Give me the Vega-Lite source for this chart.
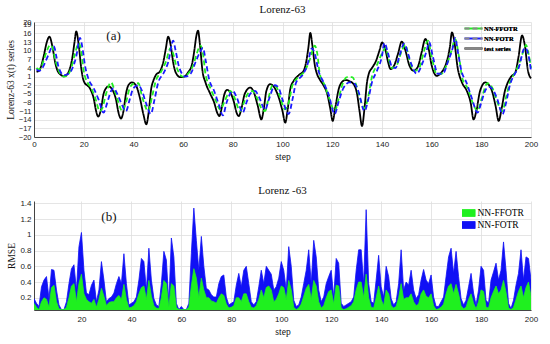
{
"$schema": "https://vega.github.io/schema/vega-lite/v6.json",
"background": "white",
"padding": {"left": 5, "top": 4, "right": 10, "bottom": 5},
"spacing": 24,
"config": {
  "view": {"stroke": null},
  "font": "Liberation Serif",
  "axis": {"labelFont": "Liberation Sans", "labelFontSize": 8, "labelColor": "#222", "titleFont": "Liberation Serif", "titleFontWeight": "normal", "titleFontSize": 9.5, "titleColor": "#111", "gridColor": "#dedede", "gridWidth": 0.8, "domainColor": "#444", "ticks": false, "labelOverlap": false, "labelFlush": false, "labelPadding": 3, "titlePadding": 3},
  "title": {"font": "Liberation Serif", "fontSize": 11, "fontWeight": "normal", "color": "#111", "offset": 3}
},
"resolve": {"scale": {"color": "independent", "x": "independent", "y": "independent"}, "legend": {"color": "independent"}},
"vconcat": [
{
  "width": 497, "height": 115,
  "title": "Lorenz-63",
  "encoding": {
    "x": {"field": "step", "type": "quantitative", "scale": {"domain": [0, 200], "nice": false}, "axis": {"values": [0,20,40,60,80,100,120,140,160,180,200], "title": "step"}},
    "y": {"field": "value", "type": "quantitative", "scale": {"domain": [-20, 20], "nice": false, "zero": false}, "axis": {"values": [-20,-17,-14,-11,-8,-5,-2,1,4,7,10,13,16,19,20], "title": "Lorenz-63 x(t) series", "labelFontSize": 7.5}}
  },
  "layer": [
    {
      "data": {"values": [
{"series":"test series","step":1,"value":2.7},{"series":"test series","step":2,"value":3.0},{"series":"test series","step":3,"value":5},{"series":"test series","step":4,"value":8.5},{"series":"test series","step":5,"value":12.5},{"series":"test series","step":6.2,"value":14.9},{"series":"test series","step":7.5,"value":11},{"series":"test series","step":8.5,"value":6},{"series":"test series","step":9.5,"value":3},{"series":"test series","step":11,"value":1.5},{"series":"test series","step":12,"value":1.1},{"series":"test series","step":13,"value":1.5},{"series":"test series","step":14.5,"value":4},{"series":"test series","step":15.5,"value":8},{"series":"test series","step":16.3,"value":13},{"series":"test series","step":17,"value":16.7},{"series":"test series","step":18,"value":12},{"series":"test series","step":19,"value":4},{"series":"test series","step":20,"value":-0.5},{"series":"test series","step":22.7,"value":-3.4},{"series":"test series","step":24,"value":-6.5},{"series":"test series","step":25,"value":-11},{"series":"test series","step":25.8,"value":-12.9},{"series":"test series","step":26.8,"value":-11},{"series":"test series","step":28,"value":-5},{"series":"test series","step":29,"value":-3},{"series":"test series","step":30,"value":-2.4},{"series":"test series","step":31.5,"value":-3.5},{"series":"test series","step":33,"value":-7},{"series":"test series","step":34,"value":-11.5},{"series":"test series","step":35,"value":-13.6},{"series":"test series","step":36,"value":-11},{"series":"test series","step":37,"value":-5},{"series":"test series","step":38,"value":-2},{"series":"test series","step":39.4,"value":-1.0},{"series":"test series","step":41,"value":-2},{"series":"test series","step":42.5,"value":-6},{"series":"test series","step":44,"value":-12},{"series":"test series","step":45.2,"value":-15.6},{"series":"test series","step":46.2,"value":-11},{"series":"test series","step":47.2,"value":-3},{"series":"test series","step":48,"value":-0.5},{"series":"test series","step":49,"value":1.5},{"series":"test series","step":50.8,"value":3.0},{"series":"test series","step":52,"value":6},{"series":"test series","step":53,"value":10.5},{"series":"test series","step":54,"value":14.9},{"series":"test series","step":55,"value":12},{"series":"test series","step":56,"value":6},{"series":"test series","step":57,"value":2.5},{"series":"test series","step":58.9,"value":0.8},{"series":"test series","step":60.5,"value":1},{"series":"test series","step":62,"value":2.5},{"series":"test series","step":63.5,"value":5},{"series":"test series","step":64.5,"value":10},{"series":"test series","step":65.3,"value":15},{"series":"test series","step":66,"value":17},{"series":"test series","step":66.8,"value":12},{"series":"test series","step":67.8,"value":3},{"series":"test series","step":69,"value":-1},{"series":"test series","step":71,"value":-5.1},{"series":"test series","step":72.5,"value":-8},{"series":"test series","step":73.7,"value":-11.5},{"series":"test series","step":74.6,"value":-12.7},{"series":"test series","step":75.5,"value":-10},{"series":"test series","step":76.5,"value":-5.5},{"series":"test series","step":77.7,"value":-3.6},{"series":"test series","step":79,"value":-4.5},{"series":"test series","step":80.5,"value":-8},{"series":"test series","step":81.5,"value":-11.5},{"series":"test series","step":82.4,"value":-12.7},{"series":"test series","step":83.5,"value":-10},{"series":"test series","step":84.8,"value":-5},{"series":"test series","step":87,"value":-2.8},{"series":"test series","step":88.5,"value":-4.5},{"series":"test series","step":90,"value":-9},{"series":"test series","step":91.5,"value":-13.9},{"series":"test series","step":92.5,"value":-10},{"series":"test series","step":93.5,"value":-4},{"series":"test series","step":95,"value":-1.6},{"series":"test series","step":96.5,"value":-2.5},{"series":"test series","step":98.5,"value":-6.3},{"series":"test series","step":100,"value":-11},{"series":"test series","step":101.1,"value":-15},{"series":"test series","step":102,"value":-11},{"series":"test series","step":103.2,"value":-3},{"series":"test series","step":104.5,"value":-0.5},{"series":"test series","step":106.5,"value":1.5},{"series":"test series","step":108.5,"value":3.0},{"series":"test series","step":109.5,"value":6},{"series":"test series","step":110.4,"value":11},{"series":"test series","step":111.2,"value":16.2},{"series":"test series","step":112,"value":12},{"series":"test series","step":113,"value":5},{"series":"test series","step":113.9,"value":1.9},{"series":"test series","step":115,"value":0},{"series":"test series","step":116.6,"value":-2.2},{"series":"test series","step":118,"value":-5},{"series":"test series","step":119.2,"value":-10},{"series":"test series","step":120.2,"value":-14.4},{"series":"test series","step":121.2,"value":-10},{"series":"test series","step":122.6,"value":-3.4},{"series":"test series","step":124,"value":-0.8},{"series":"test series","step":125.3,"value":-0.2},{"series":"test series","step":127,"value":-0.6},{"series":"test series","step":128.6,"value":-1.6},{"series":"test series","step":130,"value":-5},{"series":"test series","step":131,"value":-11},{"series":"test series","step":132,"value":-16.2},{"series":"test series","step":133,"value":-10},{"series":"test series","step":134,"value":-1},{"series":"test series","step":134.7,"value":1.9},{"series":"test series","step":136,"value":4},{"series":"test series","step":137.4,"value":6},{"series":"test series","step":139,"value":10},{"series":"test series","step":140.1,"value":12.9},{"series":"test series","step":141.5,"value":10},{"series":"test series","step":142.5,"value":6},{"series":"test series","step":143.5,"value":3.6},{"series":"test series","step":145,"value":5},{"series":"test series","step":146.5,"value":9},{"series":"test series","step":148,"value":13.2},{"series":"test series","step":149.5,"value":10},{"series":"test series","step":151,"value":5},{"series":"test series","step":152.8,"value":3.0},{"series":"test series","step":154.5,"value":4.5},{"series":"test series","step":156,"value":9.5},{"series":"test series","step":157.5,"value":14.1},{"series":"test series","step":158.5,"value":12},{"series":"test series","step":160,"value":5},{"series":"test series","step":162,"value":1.3},{"series":"test series","step":164,"value":2.5},{"series":"test series","step":166,"value":6},{"series":"test series","step":167.3,"value":11},{"series":"test series","step":168.2,"value":16.4},{"series":"test series","step":169,"value":14},{"series":"test series","step":170.5,"value":4},{"series":"test series","step":172.2,"value":-1},{"series":"test series","step":174.2,"value":-4},{"series":"test series","step":175.7,"value":-8},{"series":"test series","step":176.9,"value":-13.9},{"series":"test series","step":178,"value":-11},{"series":"test series","step":179.5,"value":-4},{"series":"test series","step":181.6,"value":-1},{"series":"test series","step":183,"value":-1.8},{"series":"test series","step":184.3,"value":-4},{"series":"test series","step":185.7,"value":-9},{"series":"test series","step":187,"value":-14.4},{"series":"test series","step":188.2,"value":-10},{"series":"test series","step":189.5,"value":-4},{"series":"test series","step":190.4,"value":-1.6},{"series":"test series","step":192,"value":1},{"series":"test series","step":193.7,"value":2.5},{"series":"test series","step":195,"value":8},{"series":"test series","step":196.4,"value":15.3},{"series":"test series","step":197.5,"value":12},{"series":"test series","step":198.8,"value":3},{"series":"test series","step":200,"value":0.4},
{"series":"NN-FFOTR","step":1,"value":4},{"series":"NN-FFOTR","step":2,"value":3.5},{"series":"NN-FFOTR","step":3,"value":4.5},{"series":"NN-FFOTR","step":4,"value":7},{"series":"NN-FFOTR","step":5,"value":9.5},{"series":"NN-FFOTR","step":6.5,"value":12},{"series":"NN-FFOTR","step":7.5,"value":11},{"series":"NN-FFOTR","step":8.5,"value":7},{"series":"NN-FFOTR","step":10,"value":3},{"series":"NN-FFOTR","step":12,"value":1},{"series":"NN-FFOTR","step":13.5,"value":1.5},{"series":"NN-FFOTR","step":15,"value":4},{"series":"NN-FFOTR","step":16.5,"value":9},{"series":"NN-FFOTR","step":18,"value":12.5},{"series":"NN-FFOTR","step":19,"value":10},{"series":"NN-FFOTR","step":20,"value":3},{"series":"NN-FFOTR","step":21.5,"value":-1},{"series":"NN-FFOTR","step":23,"value":-3},{"series":"NN-FFOTR","step":24.5,"value":-6},{"series":"NN-FFOTR","step":26.5,"value":-11},{"series":"NN-FFOTR","step":27.5,"value":-10},{"series":"NN-FFOTR","step":29,"value":-5},{"series":"NN-FFOTR","step":31,"value":-1},{"series":"NN-FFOTR","step":32.5,"value":-4},{"series":"NN-FFOTR","step":34,"value":-8},{"series":"NN-FFOTR","step":35.5,"value":-11},{"series":"NN-FFOTR","step":37,"value":-8},{"series":"NN-FFOTR","step":38.5,"value":-3},{"series":"NN-FFOTR","step":40,"value":-1.5},{"series":"NN-FFOTR","step":42,"value":-1.3},{"series":"NN-FFOTR","step":43.5,"value":-6},{"series":"NN-FFOTR","step":46,"value":-11},{"series":"NN-FFOTR","step":47.5,"value":-6},{"series":"NN-FFOTR","step":49,"value":-0.5},{"series":"NN-FFOTR","step":51,"value":2.5},{"series":"NN-FFOTR","step":53,"value":6},{"series":"NN-FFOTR","step":55,"value":11},{"series":"NN-FFOTR","step":56,"value":9},{"series":"NN-FFOTR","step":57.5,"value":4},{"series":"NN-FFOTR","step":60,"value":1},{"series":"NN-FFOTR","step":62,"value":2},{"series":"NN-FFOTR","step":64,"value":4.8},{"series":"NN-FFOTR","step":65.5,"value":9},{"series":"NN-FFOTR","step":67,"value":11.8},{"series":"NN-FFOTR","step":68,"value":9},{"series":"NN-FFOTR","step":69,"value":2},{"series":"NN-FFOTR","step":71,"value":-3},{"series":"NN-FFOTR","step":73,"value":-7},{"series":"NN-FFOTR","step":75,"value":-10.5},{"series":"NN-FFOTR","step":76.5,"value":-8},{"series":"NN-FFOTR","step":79,"value":-4},{"series":"NN-FFOTR","step":80.5,"value":-6},{"series":"NN-FFOTR","step":83,"value":-11},{"series":"NN-FFOTR","step":84.5,"value":-8},{"series":"NN-FFOTR","step":86,"value":-5},{"series":"NN-FFOTR","step":88,"value":-4},{"series":"NN-FFOTR","step":89.5,"value":-6},{"series":"NN-FFOTR","step":91.5,"value":-10},{"series":"NN-FFOTR","step":93,"value":-11},{"series":"NN-FFOTR","step":94.5,"value":-6},{"series":"NN-FFOTR","step":96,"value":-2},{"series":"NN-FFOTR","step":97.5,"value":-2.5},{"series":"NN-FFOTR","step":99,"value":-6},{"series":"NN-FFOTR","step":101,"value":-10.4},{"series":"NN-FFOTR","step":102.5,"value":-8},{"series":"NN-FFOTR","step":104,"value":-2},{"series":"NN-FFOTR","step":106,"value":0.5},{"series":"NN-FFOTR","step":109,"value":3},{"series":"NN-FFOTR","step":111,"value":7},{"series":"NN-FFOTR","step":113,"value":11.8},{"series":"NN-FFOTR","step":114,"value":9},{"series":"NN-FFOTR","step":115,"value":2},{"series":"NN-FFOTR","step":117,"value":-2},{"series":"NN-FFOTR","step":119,"value":-7},{"series":"NN-FFOTR","step":121,"value":-11},{"series":"NN-FFOTR","step":122.5,"value":-7},{"series":"NN-FFOTR","step":124,"value":-2},{"series":"NN-FFOTR","step":126,"value":0.8},{"series":"NN-FFOTR","step":128,"value":0.8},{"series":"NN-FFOTR","step":129.5,"value":-1.5},{"series":"NN-FFOTR","step":131,"value":-6},{"series":"NN-FFOTR","step":133,"value":-10},{"series":"NN-FFOTR","step":134.5,"value":-6},{"series":"NN-FFOTR","step":136,"value":1},{"series":"NN-FFOTR","step":138,"value":5},{"series":"NN-FFOTR","step":140,"value":9},{"series":"NN-FFOTR","step":141.5,"value":11},{"series":"NN-FFOTR","step":142.5,"value":8},{"series":"NN-FFOTR","step":144,"value":4},{"series":"NN-FFOTR","step":146,"value":5},{"series":"NN-FFOTR","step":148,"value":10},{"series":"NN-FFOTR","step":149.5,"value":12},{"series":"NN-FFOTR","step":151,"value":7},{"series":"NN-FFOTR","step":153,"value":3},{"series":"NN-FFOTR","step":155,"value":4},{"series":"NN-FFOTR","step":157,"value":10},{"series":"NN-FFOTR","step":158.5,"value":13.5},{"series":"NN-FFOTR","step":160,"value":8},{"series":"NN-FFOTR","step":162,"value":2},{"series":"NN-FFOTR","step":164,"value":2},{"series":"NN-FFOTR","step":166,"value":5},{"series":"NN-FFOTR","step":168,"value":10},{"series":"NN-FFOTR","step":169.5,"value":14},{"series":"NN-FFOTR","step":171,"value":8},{"series":"NN-FFOTR","step":172.5,"value":0},{"series":"NN-FFOTR","step":174.5,"value":-3},{"series":"NN-FFOTR","step":176.5,"value":-8},{"series":"NN-FFOTR","step":178.5,"value":-11},{"series":"NN-FFOTR","step":180,"value":-7},{"series":"NN-FFOTR","step":182.5,"value":-1.3},{"series":"NN-FFOTR","step":184.5,"value":-3},{"series":"NN-FFOTR","step":186.5,"value":-8},{"series":"NN-FFOTR","step":188.5,"value":-11},{"series":"NN-FFOTR","step":190,"value":-6},{"series":"NN-FFOTR","step":191.5,"value":-1},{"series":"NN-FFOTR","step":193,"value":1.5},{"series":"NN-FFOTR","step":195,"value":5},{"series":"NN-FFOTR","step":197,"value":10},{"series":"NN-FFOTR","step":198,"value":12},{"series":"NN-FFOTR","step":199,"value":9},{"series":"NN-FFOTR","step":200,"value":4},
{"series":"NN-FOTR","step":1,"value":3.5},{"series":"NN-FOTR","step":2,"value":3},{"series":"NN-FOTR","step":3,"value":3.5},{"series":"NN-FOTR","step":4,"value":5},{"series":"NN-FOTR","step":5,"value":7},{"series":"NN-FOTR","step":6,"value":9},{"series":"NN-FOTR","step":7,"value":11},{"series":"NN-FOTR","step":8,"value":11.5},{"series":"NN-FOTR","step":9,"value":8},{"series":"NN-FOTR","step":10,"value":4},{"series":"NN-FOTR","step":12,"value":1.5},{"series":"NN-FOTR","step":14,"value":2},{"series":"NN-FOTR","step":15.5,"value":4},{"series":"NN-FOTR","step":17,"value":8},{"series":"NN-FOTR","step":18.5,"value":14.5},{"series":"NN-FOTR","step":19.5,"value":11},{"series":"NN-FOTR","step":20.5,"value":5},{"series":"NN-FOTR","step":22,"value":0},{"series":"NN-FOTR","step":24,"value":-3},{"series":"NN-FOTR","step":26,"value":-7},{"series":"NN-FOTR","step":28,"value":-11.5},{"series":"NN-FOTR","step":29.5,"value":-8},{"series":"NN-FOTR","step":31,"value":-4},{"series":"NN-FOTR","step":32,"value":-3},{"series":"NN-FOTR","step":33.5,"value":-5},{"series":"NN-FOTR","step":35,"value":-8},{"series":"NN-FOTR","step":37,"value":-11},{"series":"NN-FOTR","step":38.5,"value":-7},{"series":"NN-FOTR","step":40,"value":-3},{"series":"NN-FOTR","step":42,"value":-2},{"series":"NN-FOTR","step":43.5,"value":-4},{"series":"NN-FOTR","step":45,"value":-8},{"series":"NN-FOTR","step":47,"value":-12},{"series":"NN-FOTR","step":48.5,"value":-7},{"series":"NN-FOTR","step":50,"value":-1},{"series":"NN-FOTR","step":52,"value":2},{"series":"NN-FOTR","step":54,"value":6},{"series":"NN-FOTR","step":56,"value":13.5},{"series":"NN-FOTR","step":57,"value":10},{"series":"NN-FOTR","step":58.5,"value":4},{"series":"NN-FOTR","step":61,"value":1},{"series":"NN-FOTR","step":63,"value":2},{"series":"NN-FOTR","step":65,"value":6},{"series":"NN-FOTR","step":66.5,"value":9},{"series":"NN-FOTR","step":68,"value":11},{"series":"NN-FOTR","step":69,"value":7},{"series":"NN-FOTR","step":70.5,"value":0},{"series":"NN-FOTR","step":72.5,"value":-4},{"series":"NN-FOTR","step":74.5,"value":-9},{"series":"NN-FOTR","step":76,"value":-12.5},{"series":"NN-FOTR","step":77.5,"value":-8},{"series":"NN-FOTR","step":80,"value":-4},{"series":"NN-FOTR","step":81.5,"value":-6},{"series":"NN-FOTR","step":84,"value":-11.5},{"series":"NN-FOTR","step":85.5,"value":-8},{"series":"NN-FOTR","step":87,"value":-5},{"series":"NN-FOTR","step":89,"value":-4},{"series":"NN-FOTR","step":90.5,"value":-6},{"series":"NN-FOTR","step":93,"value":-10.5},{"series":"NN-FOTR","step":94.5,"value":-7},{"series":"NN-FOTR","step":97,"value":-2},{"series":"NN-FOTR","step":98.5,"value":-3},{"series":"NN-FOTR","step":100,"value":-7},{"series":"NN-FOTR","step":102.5,"value":-12},{"series":"NN-FOTR","step":104,"value":-7},{"series":"NN-FOTR","step":105.5,"value":-1},{"series":"NN-FOTR","step":108,"value":1.5},{"series":"NN-FOTR","step":110,"value":5},{"series":"NN-FOTR","step":111.8,"value":10.8},{"series":"NN-FOTR","step":113,"value":9},{"series":"NN-FOTR","step":114.5,"value":3},{"series":"NN-FOTR","step":116.5,"value":-1},{"series":"NN-FOTR","step":118.5,"value":-5},{"series":"NN-FOTR","step":121,"value":-12},{"series":"NN-FOTR","step":122.5,"value":-8},{"series":"NN-FOTR","step":124.5,"value":-3},{"series":"NN-FOTR","step":127,"value":-1},{"series":"NN-FOTR","step":129,"value":-1.5},{"series":"NN-FOTR","step":130.5,"value":-4},{"series":"NN-FOTR","step":133,"value":-11},{"series":"NN-FOTR","step":134.5,"value":-7},{"series":"NN-FOTR","step":136,"value":-1},{"series":"NN-FOTR","step":138,"value":3},{"series":"NN-FOTR","step":140,"value":8},{"series":"NN-FOTR","step":141,"value":12.7},{"series":"NN-FOTR","step":142.5,"value":9},{"series":"NN-FOTR","step":144,"value":4.5},{"series":"NN-FOTR","step":145.5,"value":4},{"series":"NN-FOTR","step":147,"value":8},{"series":"NN-FOTR","step":149,"value":12.5},{"series":"NN-FOTR","step":150.5,"value":9},{"series":"NN-FOTR","step":152,"value":5},{"series":"NN-FOTR","step":154,"value":2},{"series":"NN-FOTR","step":156,"value":5},{"series":"NN-FOTR","step":158,"value":10},{"series":"NN-FOTR","step":159,"value":13},{"series":"NN-FOTR","step":160.5,"value":8},{"series":"NN-FOTR","step":162.5,"value":2},{"series":"NN-FOTR","step":164.5,"value":2},{"series":"NN-FOTR","step":166.5,"value":6},{"series":"NN-FOTR","step":168.5,"value":11},{"series":"NN-FOTR","step":169.5,"value":14.5},{"series":"NN-FOTR","step":170.5,"value":10},{"series":"NN-FOTR","step":172,"value":3},{"series":"NN-FOTR","step":174,"value":-1},{"series":"NN-FOTR","step":176,"value":-6},{"series":"NN-FOTR","step":178.5,"value":-11.5},{"series":"NN-FOTR","step":180,"value":-8},{"series":"NN-FOTR","step":181.5,"value":-4},{"series":"NN-FOTR","step":183,"value":-2.5},{"series":"NN-FOTR","step":185,"value":-4},{"series":"NN-FOTR","step":186.5,"value":-7},{"series":"NN-FOTR","step":188.5,"value":-12},{"series":"NN-FOTR","step":190,"value":-8},{"series":"NN-FOTR","step":191.5,"value":-2},{"series":"NN-FOTR","step":193.5,"value":2},{"series":"NN-FOTR","step":195,"value":4},{"series":"NN-FOTR","step":197.5,"value":11},{"series":"NN-FOTR","step":198.5,"value":10},{"series":"NN-FOTR","step":199.5,"value":6},{"series":"NN-FOTR","step":200,"value":3}
      ]},
      "mark": {"type": "line", "interpolate": "monotone", "strokeWidth": 1.8},
      "encoding": {
        "color": {"field": "series", "type": "nominal", "scale": {"domain": ["NN-FFOTR", "NN-FOTR", "test series"], "range": ["#22ee22", "#1a1aff", "#000000"]},
          "legend": {"orient": "none", "legendX": 434, "legendY": 1, "title": null, "symbolType": "M-2,0H2", "symbolSize": 81, "symbolStrokeWidth": 2, "symbolFillColor": "transparent", "labelFont": "Liberation Serif", "labelFontSize": 6.5, "labelFontWeight": "bold", "labelOffset": 5, "rowPadding": 0, "padding": 0}},
        "strokeDash": {"field": "series", "type": "nominal", "scale": {"domain": ["NN-FFOTR", "NN-FOTR", "test series"], "range": [[5,3],[5,3],[1,0]]},
          "legend": {"orient": "none", "legendX": 434, "legendY": 1, "title": null, "symbolType": "M-2,0H2", "symbolSize": 81, "symbolStrokeWidth": 2, "symbolFillColor": "transparent", "labelFont": "Liberation Serif", "labelFontSize": 6.5, "labelFontWeight": "bold", "labelOffset": 5, "rowPadding": 0, "padding": 0}}
      }
    },
    {
      "data": {"values": [{"step": 32, "value": 15, "label": "(a)"}]},
      "mark": {"type": "text", "fontSize": 13, "font": "Liberation Serif", "fontWeight": "normal", "color": "#111"},
      "encoding": {"text": {"field": "label"}}
    }
  ]
},
{
  "width": 497, "height": 109,
  "title": "Lorenz -63",
  "encoding": {
    "x": {"field": "step", "type": "quantitative", "scale": {"domain": [1, 200], "nice": false}, "axis": {"values": [20,40,60,80,100,120,140,160,180,200], "title": "step", "labelPadding": 5}},
    "y": {"field": "rmse", "type": "quantitative", "scale": {"domain": [0.045, 1.43], "nice": false, "zero": false}, "axis": {"values": [0.2,0.4,0.6,0.8,1,1.2,1.4], "format": "~g", "title": "RMSE"}}
  },
  "layer": [
    {
      "data": {"values": [
{"step":1,"NN-FFOTR":0.13,"NN-FOTR":0.19},{"step":2,"NN-FFOTR":0.08,"NN-FOTR":0.13},{"step":3,"NN-FFOTR":0.05,"NN-FOTR":0.09},{"step":4,"NN-FFOTR":0.15,"NN-FOTR":0.34},{"step":5,"NN-FFOTR":0.2,"NN-FOTR":0.425},{"step":6,"NN-FFOTR":0.18,"NN-FOTR":0.47},{"step":7,"NN-FFOTR":0.08,"NN-FOTR":0.19},{"step":8,"NN-FFOTR":0.33,"NN-FOTR":0.56},{"step":9,"NN-FFOTR":0.36,"NN-FOTR":0.55},{"step":10,"NN-FFOTR":0.15,"NN-FOTR":0.3},
{"step":11,"NN-FFOTR":0.06,"NN-FOTR":0.11},{"step":12,"NN-FFOTR":0.05,"NN-FOTR":0.05},{"step":13,"NN-FFOTR":0.05,"NN-FOTR":0.05},{"step":14,"NN-FFOTR":0.08,"NN-FOTR":0.15},{"step":15,"NN-FFOTR":0.2,"NN-FOTR":0.38},{"step":16,"NN-FFOTR":0.35,"NN-FOTR":0.57},{"step":17,"NN-FFOTR":0.38,"NN-FOTR":0.62},{"step":18,"NN-FFOTR":0.15,"NN-FOTR":0.3},{"step":19,"NN-FFOTR":0.38,"NN-FOTR":0.85},{"step":20,"NN-FFOTR":0.5,"NN-FOTR":1.03},
{"step":21,"NN-FFOTR":0.25,"NN-FOTR":0.55},{"step":22,"NN-FFOTR":0.18,"NN-FOTR":0.26},{"step":23,"NN-FFOTR":0.15,"NN-FOTR":0.24},{"step":24,"NN-FFOTR":0.13,"NN-FOTR":0.36},{"step":25,"NN-FFOTR":0.18,"NN-FOTR":0.425},{"step":26,"NN-FFOTR":0.08,"NN-FOTR":0.15},{"step":27,"NN-FFOTR":0.18,"NN-FOTR":0.3},{"step":28,"NN-FFOTR":0.32,"NN-FOTR":0.66},{"step":29,"NN-FFOTR":0.22,"NN-FOTR":0.425},{"step":30,"NN-FFOTR":0.1,"NN-FOTR":0.15},
{"step":31,"NN-FFOTR":0.14,"NN-FOTR":0.19},{"step":32,"NN-FFOTR":0.15,"NN-FOTR":0.21},{"step":33,"NN-FFOTR":0.15,"NN-FOTR":0.26},{"step":34,"NN-FFOTR":0.2,"NN-FOTR":0.38},{"step":35,"NN-FFOTR":0.23,"NN-FOTR":0.47},{"step":36,"NN-FFOTR":0.18,"NN-FOTR":0.38},{"step":37,"NN-FFOTR":0.37,"NN-FOTR":0.76},{"step":38,"NN-FFOTR":0.18,"NN-FOTR":0.38},{"step":39,"NN-FFOTR":0.07,"NN-FOTR":0.11},{"step":40,"NN-FFOTR":0.08,"NN-FOTR":0.13},
{"step":41,"NN-FFOTR":0.1,"NN-FOTR":0.15},{"step":42,"NN-FFOTR":0.15,"NN-FOTR":0.21},{"step":43,"NN-FFOTR":0.25,"NN-FOTR":0.425},{"step":44,"NN-FFOTR":0.33,"NN-FOTR":0.7},{"step":45,"NN-FFOTR":0.35,"NN-FOTR":0.66},{"step":46,"NN-FFOTR":0.18,"NN-FOTR":0.3},{"step":47,"NN-FFOTR":0.42,"NN-FOTR":0.83},{"step":48,"NN-FFOTR":0.22,"NN-FOTR":0.425},{"step":49,"NN-FFOTR":0.1,"NN-FOTR":0.19},{"step":50,"NN-FFOTR":0.07,"NN-FOTR":0.11},
{"step":51,"NN-FFOTR":0.06,"NN-FOTR":0.09},{"step":52,"NN-FFOTR":0.2,"NN-FOTR":0.38},{"step":53,"NN-FFOTR":0.42,"NN-FOTR":0.79},{"step":54,"NN-FFOTR":0.38,"NN-FOTR":0.68},{"step":55,"NN-FFOTR":0.08,"NN-FOTR":0.13},{"step":56,"NN-FFOTR":0.38,"NN-FOTR":0.96},{"step":57,"NN-FFOTR":0.35,"NN-FOTR":0.72},{"step":58,"NN-FFOTR":0.08,"NN-FOTR":0.13},{"step":59,"NN-FFOTR":0.05,"NN-FOTR":0.05},{"step":60,"NN-FFOTR":0.05,"NN-FOTR":0.09},
{"step":61,"NN-FFOTR":0.05,"NN-FOTR":0.05},{"step":62,"NN-FFOTR":0.05,"NN-FOTR":0.05},{"step":63,"NN-FFOTR":0.08,"NN-FOTR":0.13},{"step":64,"NN-FFOTR":0.35,"NN-FOTR":0.76},{"step":65,"NN-FFOTR":0.57,"NN-FOTR":1.34},{"step":66,"NN-FFOTR":0.45,"NN-FOTR":0.93},{"step":67,"NN-FFOTR":0.2,"NN-FOTR":0.55},{"step":68,"NN-FFOTR":0.45,"NN-FOTR":0.98},{"step":69,"NN-FFOTR":0.3,"NN-FOTR":0.6},{"step":70,"NN-FFOTR":0.2,"NN-FOTR":0.32},
{"step":71,"NN-FFOTR":0.2,"NN-FOTR":0.3},{"step":72,"NN-FFOTR":0.16,"NN-FOTR":0.24},{"step":73,"NN-FFOTR":0.15,"NN-FOTR":0.21},{"step":74,"NN-FFOTR":0.13,"NN-FOTR":0.21},{"step":75,"NN-FFOTR":0.2,"NN-FOTR":0.38},{"step":76,"NN-FFOTR":0.25,"NN-FOTR":0.47},{"step":77,"NN-FFOTR":0.23,"NN-FOTR":0.49},{"step":78,"NN-FFOTR":0.12,"NN-FOTR":0.21},{"step":79,"NN-FFOTR":0.07,"NN-FOTR":0.11},{"step":80,"NN-FFOTR":0.08,"NN-FOTR":0.13},
{"step":81,"NN-FFOTR":0.1,"NN-FOTR":0.15},{"step":82,"NN-FFOTR":0.2,"NN-FOTR":0.36},{"step":83,"NN-FFOTR":0.2,"NN-FOTR":0.51},{"step":84,"NN-FFOTR":0.15,"NN-FOTR":0.34},{"step":85,"NN-FFOTR":0.25,"NN-FOTR":0.55},{"step":86,"NN-FFOTR":0.25,"NN-FOTR":0.6},{"step":87,"NN-FFOTR":0.15,"NN-FOTR":0.38},{"step":88,"NN-FFOTR":0.08,"NN-FOTR":0.15},{"step":89,"NN-FFOTR":0.07,"NN-FOTR":0.11},{"step":90,"NN-FFOTR":0.1,"NN-FOTR":0.15},
{"step":91,"NN-FFOTR":0.18,"NN-FOTR":0.34},{"step":92,"NN-FFOTR":0.3,"NN-FOTR":0.55},{"step":93,"NN-FFOTR":0.2,"NN-FOTR":0.38},{"step":94,"NN-FFOTR":0.33,"NN-FOTR":0.6},{"step":95,"NN-FFOTR":0.35,"NN-FOTR":0.55},{"step":96,"NN-FFOTR":0.3,"NN-FOTR":0.5},{"step":97,"NN-FFOTR":0.15,"NN-FOTR":0.3},{"step":98,"NN-FFOTR":0.18,"NN-FOTR":0.34},{"step":99,"NN-FFOTR":0.25,"NN-FOTR":0.45},{"step":100,"NN-FFOTR":0.35,"NN-FOTR":0.66},
{"step":101,"NN-FFOTR":0.33,"NN-FOTR":0.55},{"step":102,"NN-FFOTR":0.18,"NN-FOTR":0.3},{"step":103,"NN-FFOTR":0.42,"NN-FOTR":0.85},{"step":104,"NN-FFOTR":0.3,"NN-FOTR":0.6},{"step":105,"NN-FFOTR":0.08,"NN-FOTR":0.17},{"step":106,"NN-FFOTR":0.05,"NN-FOTR":0.09},{"step":107,"NN-FFOTR":0.07,"NN-FOTR":0.11},{"step":108,"NN-FFOTR":0.12,"NN-FOTR":0.21},{"step":109,"NN-FFOTR":0.22,"NN-FOTR":0.38},{"step":110,"NN-FFOTR":0.32,"NN-FOTR":0.55},
{"step":111,"NN-FFOTR":0.37,"NN-FOTR":0.81},{"step":112,"NN-FFOTR":0.18,"NN-FOTR":0.38},{"step":113,"NN-FFOTR":0.42,"NN-FOTR":0.93},{"step":114,"NN-FFOTR":0.35,"NN-FOTR":0.72},{"step":115,"NN-FFOTR":0.15,"NN-FOTR":0.3},{"step":116,"NN-FFOTR":0.07,"NN-FOTR":0.15},{"step":117,"NN-FFOTR":0.1,"NN-FOTR":0.21},{"step":118,"NN-FFOTR":0.2,"NN-FOTR":0.38},{"step":119,"NN-FFOTR":0.28,"NN-FOTR":0.47},{"step":120,"NN-FFOTR":0.3,"NN-FOTR":0.55},
{"step":121,"NN-FFOTR":0.12,"NN-FOTR":0.21},{"step":122,"NN-FFOTR":0.36,"NN-FOTR":0.7},{"step":123,"NN-FFOTR":0.35,"NN-FOTR":0.64},{"step":124,"NN-FFOTR":0.07,"NN-FOTR":0.13},{"step":125,"NN-FFOTR":0.05,"NN-FOTR":0.09},{"step":126,"NN-FFOTR":0.06,"NN-FOTR":0.11},{"step":127,"NN-FFOTR":0.08,"NN-FOTR":0.13},{"step":128,"NN-FFOTR":0.1,"NN-FOTR":0.15},{"step":129,"NN-FFOTR":0.15,"NN-FOTR":0.21},{"step":130,"NN-FFOTR":0.3,"NN-FOTR":0.55},
{"step":131,"NN-FFOTR":0.4,"NN-FOTR":0.81},{"step":132,"NN-FFOTR":0.4,"NN-FOTR":0.81},{"step":133,"NN-FFOTR":0.2,"NN-FOTR":0.38},{"step":134,"NN-FFOTR":0.5,"NN-FOTR":1.32},{"step":135,"NN-FFOTR":0.2,"NN-FOTR":0.38},{"step":136,"NN-FFOTR":0.08,"NN-FOTR":0.15},{"step":137,"NN-FFOTR":0.07,"NN-FOTR":0.13},{"step":138,"NN-FFOTR":0.2,"NN-FOTR":0.425},{"step":139,"NN-FFOTR":0.35,"NN-FOTR":0.74},{"step":140,"NN-FFOTR":0.18,"NN-FOTR":0.34},
{"step":141,"NN-FFOTR":0.1,"NN-FOTR":0.21},{"step":142,"NN-FFOTR":0.3,"NN-FOTR":0.6},{"step":143,"NN-FFOTR":0.25,"NN-FOTR":0.47},{"step":144,"NN-FFOTR":0.1,"NN-FOTR":0.19},{"step":145,"NN-FFOTR":0.07,"NN-FOTR":0.11},{"step":146,"NN-FFOTR":0.09,"NN-FOTR":0.15},{"step":147,"NN-FFOTR":0.2,"NN-FOTR":0.38},{"step":148,"NN-FFOTR":0.38,"NN-FOTR":0.81},{"step":149,"NN-FFOTR":0.18,"NN-FOTR":0.3},{"step":150,"NN-FFOTR":0.2,"NN-FOTR":0.4},
{"step":151,"NN-FFOTR":0.2,"NN-FOTR":0.36},{"step":152,"NN-FFOTR":0.25,"NN-FOTR":0.55},{"step":153,"NN-FFOTR":0.15,"NN-FOTR":0.3},{"step":154,"NN-FFOTR":0.1,"NN-FOTR":0.19},{"step":155,"NN-FFOTR":0.12,"NN-FOTR":0.24},{"step":156,"NN-FFOTR":0.25,"NN-FOTR":0.425},{"step":157,"NN-FFOTR":0.3,"NN-FOTR":0.56},{"step":158,"NN-FFOTR":0.22,"NN-FOTR":0.425},{"step":159,"NN-FFOTR":0.2,"NN-FOTR":0.38},{"step":160,"NN-FFOTR":0.25,"NN-FOTR":0.49},
{"step":161,"NN-FFOTR":0.1,"NN-FOTR":0.21},{"step":162,"NN-FFOTR":0.05,"NN-FOTR":0.09},{"step":163,"NN-FFOTR":0.06,"NN-FOTR":0.09},{"step":164,"NN-FFOTR":0.08,"NN-FOTR":0.15},{"step":165,"NN-FFOTR":0.12,"NN-FOTR":0.21},{"step":166,"NN-FFOTR":0.25,"NN-FOTR":0.47},{"step":167,"NN-FFOTR":0.35,"NN-FOTR":0.72},{"step":168,"NN-FFOTR":0.38,"NN-FOTR":0.83},{"step":169,"NN-FFOTR":0.25,"NN-FOTR":0.51},{"step":170,"NN-FFOTR":0.37,"NN-FOTR":0.79},
{"step":171,"NN-FFOTR":0.25,"NN-FOTR":0.47},{"step":172,"NN-FFOTR":0.1,"NN-FOTR":0.19},{"step":173,"NN-FFOTR":0.06,"NN-FOTR":0.11},{"step":174,"NN-FFOTR":0.08,"NN-FOTR":0.17},{"step":175,"NN-FFOTR":0.18,"NN-FOTR":0.34},{"step":176,"NN-FFOTR":0.25,"NN-FOTR":0.51},{"step":177,"NN-FFOTR":0.13,"NN-FOTR":0.26},{"step":178,"NN-FFOTR":0.06,"NN-FOTR":0.11},{"step":179,"NN-FFOTR":0.15,"NN-FOTR":0.3},{"step":180,"NN-FFOTR":0.3,"NN-FOTR":0.6},
{"step":181,"NN-FFOTR":0.28,"NN-FOTR":0.55},{"step":182,"NN-FFOTR":0.08,"NN-FOTR":0.17},{"step":183,"NN-FFOTR":0.07,"NN-FOTR":0.13},{"step":184,"NN-FFOTR":0.2,"NN-FOTR":0.425},{"step":185,"NN-FFOTR":0.28,"NN-FOTR":0.53},{"step":186,"NN-FFOTR":0.35,"NN-FOTR":0.64},{"step":187,"NN-FFOTR":0.25,"NN-FOTR":0.425},{"step":188,"NN-FFOTR":0.3,"NN-FOTR":0.55},{"step":189,"NN-FFOTR":0.42,"NN-FOTR":0.91},{"step":190,"NN-FFOTR":0.27,"NN-FOTR":0.55},
{"step":191,"NN-FFOTR":0.07,"NN-FOTR":0.13},{"step":192,"NN-FFOTR":0.05,"NN-FOTR":0.065},{"step":193,"NN-FFOTR":0.08,"NN-FOTR":0.17},{"step":194,"NN-FFOTR":0.18,"NN-FOTR":0.36},{"step":195,"NN-FFOTR":0.28,"NN-FOTR":0.51},{"step":196,"NN-FFOTR":0.35,"NN-FOTR":0.81},{"step":197,"NN-FFOTR":0.2,"NN-FOTR":0.425},{"step":198,"NN-FFOTR":0.33,"NN-FOTR":0.72},{"step":199,"NN-FFOTR":0.4,"NN-FOTR":0.7},{"step":200,"NN-FFOTR":0.22,"NN-FOTR":0.425}
      ]},
      "transform": [{"fold": ["NN-FFOTR", "NN-FOTR"], "as": ["model", "rmse"]}],
      "encoding": {
        "color": {"field": "model", "type": "nominal", "scale": {"domain": ["NN-FFOTR", "NN-FOTR"], "range": ["#1ff01f", "#1010f5"]},
          "legend": {"orient": "none", "legendX": 428, "legendY": 6, "title": null, "symbolType": "M-2.4,-1H2.4V1H-2.4Z", "symbolSize": 49, "symbolStrokeColor": "#111", "symbolStrokeWidth": 0.8, "symbolOpacity": 1, "labelFont": "Liberation Serif", "labelFontSize": 9.5, "labelOffset": 6, "rowPadding": 0, "clipHeight": 12, "padding": 0}}
      },
      "layer": [
        {"transform": [{"filter": "datum.model == 'NN-FOTR'"}], "mark": {"type": "area", "clip": true, "opacity": 1, "line": {"color": "#111", "strokeWidth": 0.8}}},
        {"transform": [{"filter": "datum.model == 'NN-FFOTR'"}], "mark": {"type": "area", "clip": true, "opacity": 1, "line": {"color": "#111", "strokeWidth": 0.8}}}
      ]
    },
    {
      "data": {"values": [{"step": 31, "rmse": 1.23, "label": "(b)"}]},
      "mark": {"type": "text", "fontSize": 13, "font": "Liberation Serif", "fontWeight": "normal", "color": "#111"},
      "encoding": {"text": {"field": "label"}}
    }
  ]
}
]
}
